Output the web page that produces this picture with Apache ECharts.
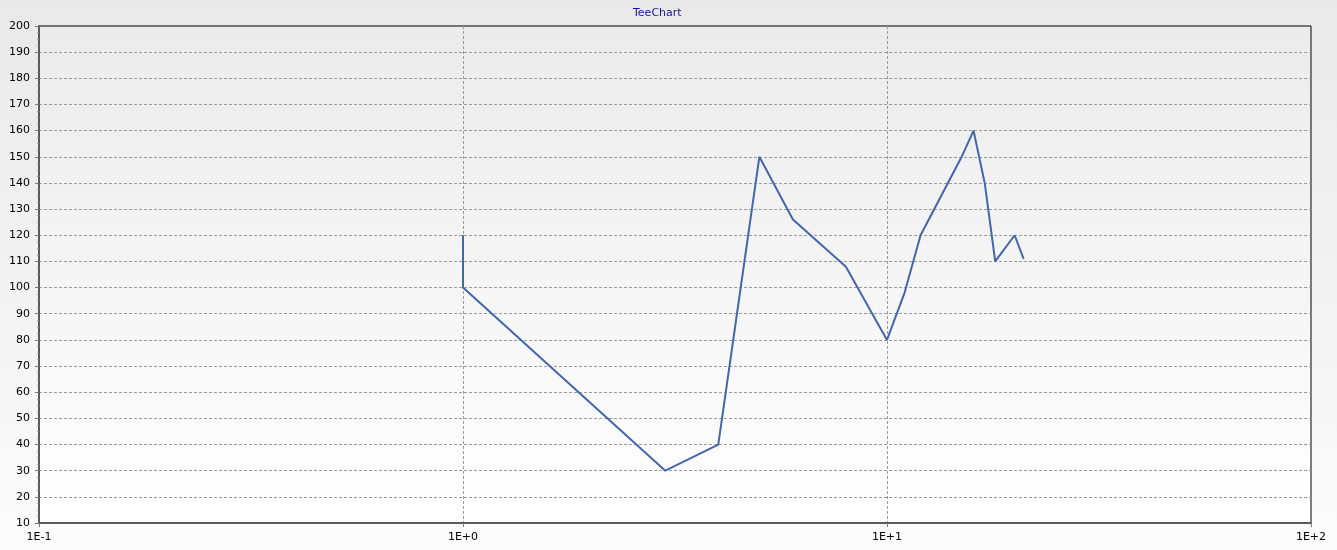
<!DOCTYPE html>
<html>
<head>
<meta charset="utf-8">
<script src="https://cdn.jsdelivr.net/npm/echarts@6/dist/echarts.min.js"></script>
<style>
  html, body { margin: 0; padding: 0; }
  #chart { width: 1337px; height: 550px; background: linear-gradient(to bottom, #e9e9e9 0%, #f3f3f3 55%, #fcfcfc 100%); }
</style>
</head>
<body>
<div id="chart"></div>
<script>
// Data
const xValues = [1, 1, 3, 4, 5, 6, 8, 10, 11, 12, 15, 16, 17, 18, 20, 21];
const yValues = [120, 100, 30, 40, 150, 126, 108, 80, 98, 120, 150, 160, 140, 110, 120, 111];
const xExponents = [-1, 0, 1, 2];
const xTickLabels = ['1E-1', '1E+0', '1E+1', '1E+2'];
const yMin = 10, yMax = 200, yStep = 10;
const chartTitle = 'TeeChart';

const seriesData = xValues.map((x, i) => [x, yValues[i]]);

const chart = echarts.init(document.getElementById('chart'), null, { renderer: 'canvas' });
const font = '"DejaVu Sans", Verdana, sans-serif';

chart.setOption({
  backgroundColor: 'transparent',
  animation: false,
  title: {
    text: chartTitle,
    left: 628,
    top: 3,
    textStyle: { color: '#1414a0', fontSize: 11, fontWeight: 'normal', fontFamily: font }
  },
  grid: {
    left: 39, right: 26, top: 26, bottom: 27,
    containLabel: false,
    show: true,
    borderColor: '#000',
    borderWidth: 1,
    backgroundColor: new echarts.graphic.LinearGradient(0, 0, 0, 1, [
      { offset: 0, color: '#ebebeb' },
      { offset: 1, color: '#ffffff' }
    ])
  },
  xAxis: {
    type: 'log',
    logBase: 10,
    min: 0.1,
    max: 100,
    interval: 1,
    axisLine: { show: true, onZero: false, lineStyle: { color: '#5a5a5a', width: 2 } },
    axisTick: { show: true, length: 4, lineStyle: { color: '#777' } },
    axisLabel: {
      margin: 9,
      color: '#000',
      fontSize: 11,
      fontFamily: font,
      formatter: function (v) {
        const e = Math.round(Math.log10(v));
        const idx = xExponents.indexOf(e);
        return idx >= 0 ? xTickLabels[idx] : '';
      }
    },
    splitLine: { show: true, showMinLine: false, showMaxLine: false, lineStyle: { color: '#9a9a9a', type: [3, 2], width: 1 } }
  },
  yAxis: {
    type: 'value',
    min: yMin,
    max: yMax,
    interval: yStep,
    axisLine: { show: true, onZero: false, lineStyle: { color: '#5a5a5a', width: 2 } },
    axisTick: { show: true, length: 4, lineStyle: { color: '#777' } },
    minorTick: { show: true, splitNumber: 4, length: 2, lineStyle: { color: '#999' } },
    axisLabel: { margin: 9, color: '#000', fontSize: 11, fontFamily: font },
    splitLine: { show: true, showMinLine: false, showMaxLine: false, lineStyle: { color: '#9a9a9a', type: [3, 2], width: 1 } }
  },
  series: [{
    type: 'line',
    data: seriesData,
    showSymbol: false,
    symbol: 'none',
    lineStyle: { color: '#4466aa', width: 2 },
    itemStyle: { color: '#4466aa' }
  }]
});
</script>
</body>
</html>
